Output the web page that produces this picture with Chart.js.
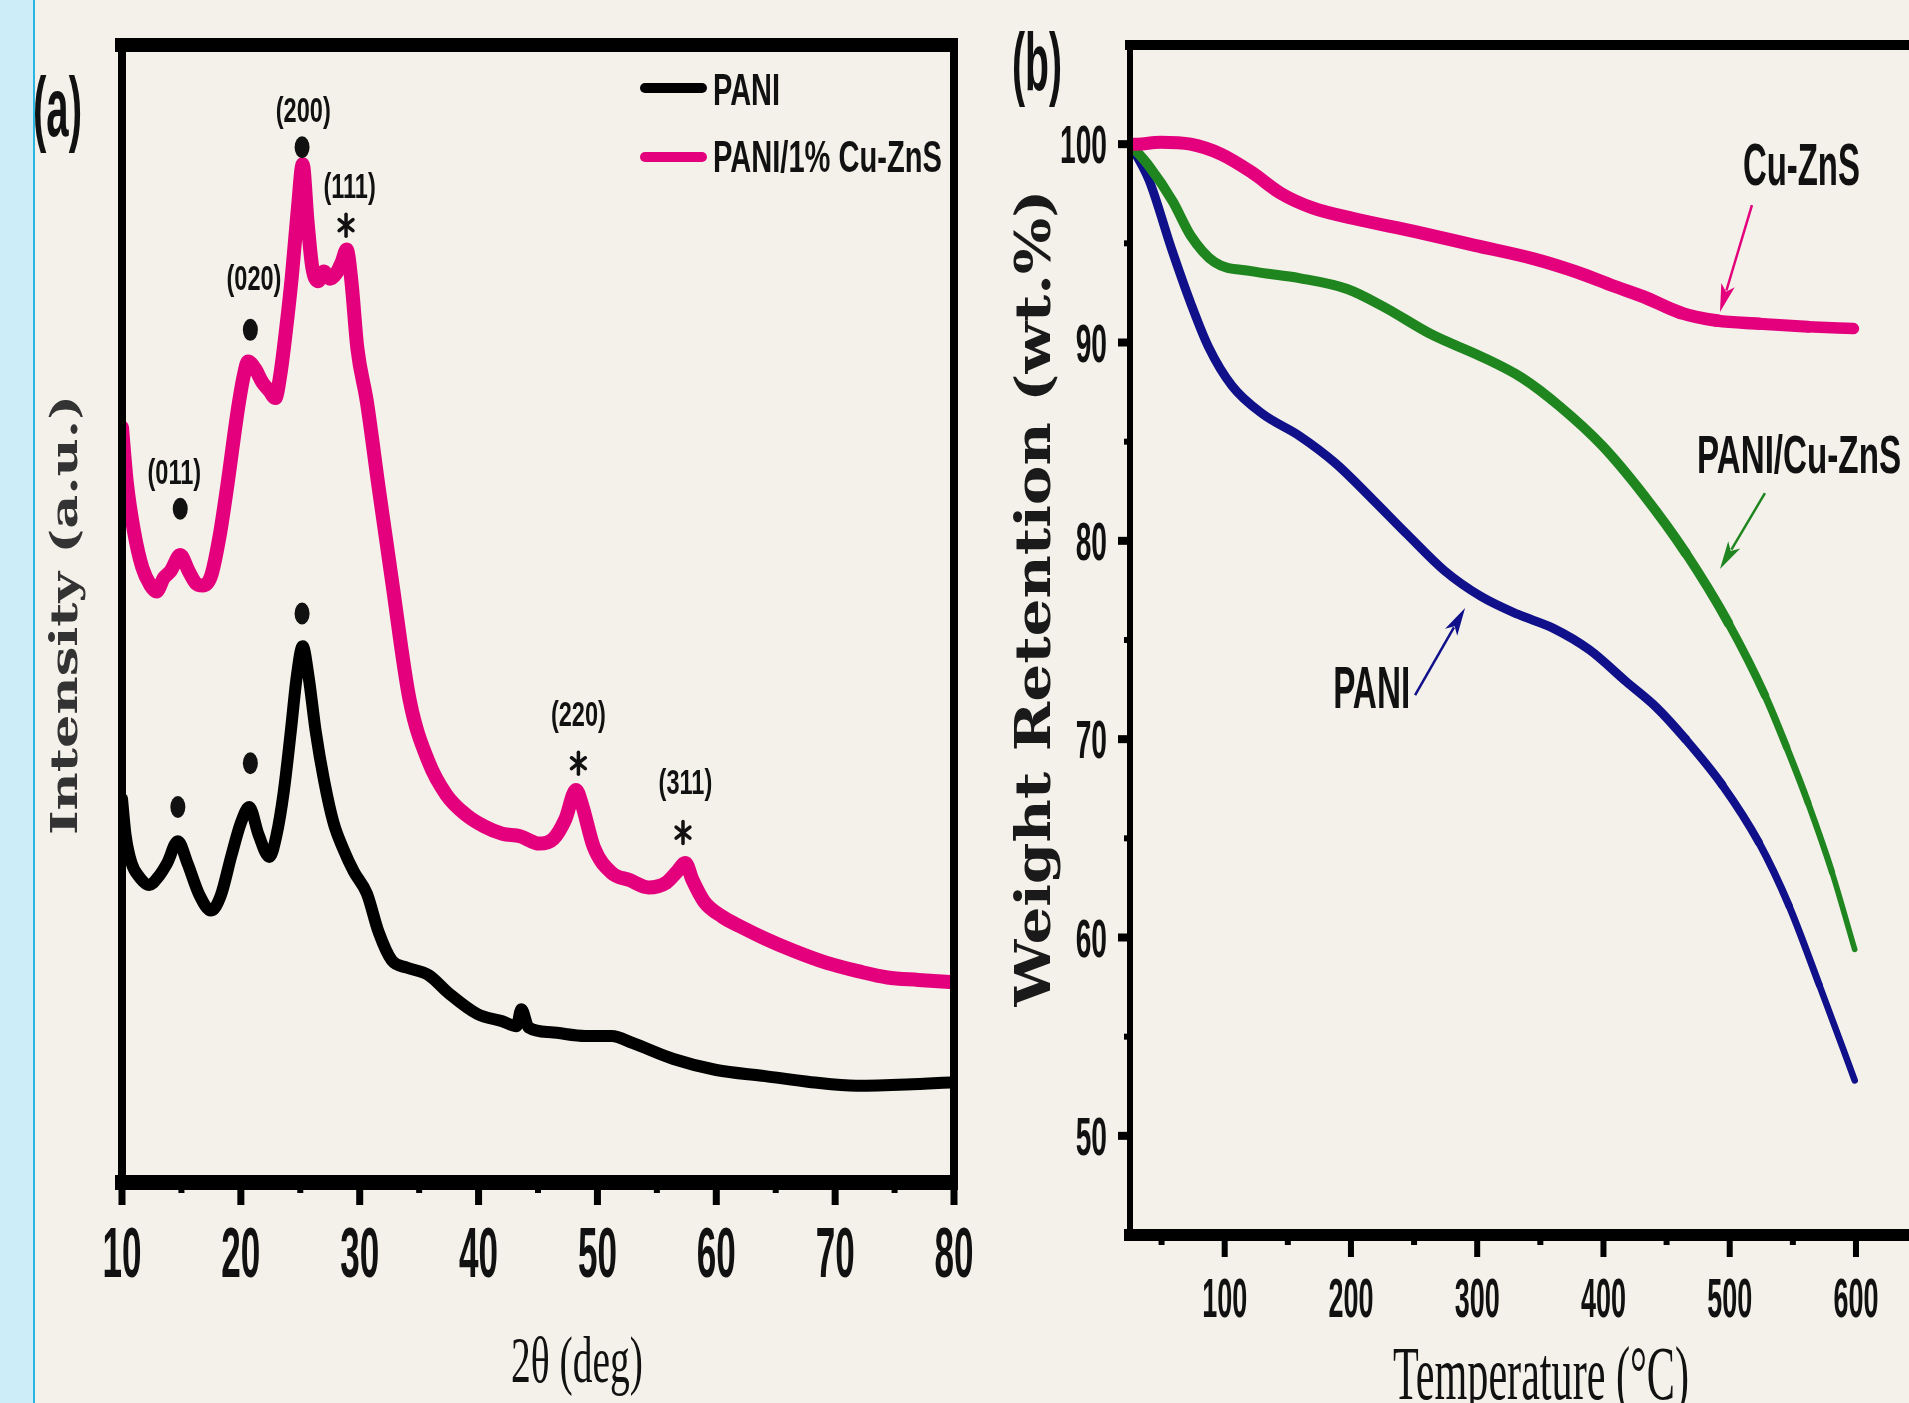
<!DOCTYPE html>
<html>
<head>
<meta charset="utf-8">
<script src="https://cdn.jsdelivr.net/npm/chart.js@4.4.0/dist/chart.umd.min.js"></script>
<style>
  html, body { margin:0; padding:0; width:1909px; height:1403px; overflow:hidden; background:#f3f1e9; }
  #strip { position:absolute; left:0; top:0; width:33px; height:1403px; background:#cdeef8; border-right:2px solid #29b6e2; }
  #xrd { position:absolute; left:0; top:0; }
  #tga { position:absolute; left:960px; top:0; }
</style>
</head>
<body>
<div id="strip"></div>
<canvas id="xrd" width="1000" height="1403"></canvas>
<canvas id="tga" width="949" height="1403"></canvas>
<script>
// ---- (a) XRD data, 2theta (deg) vs intensity (a.u.)
const paniAngle = [10.0,10.3,10.8,11.5,12.3,13.0,13.8,14.7,15.5,16.5,17.5,18.3,19.2,20.0,20.7,21.5,22.4,23.0,23.6,24.2,24.7,25.2,25.7,26.3,27.0,27.8,28.6,29.5,30.6,31.6,32.7,34.0,35.8,37.5,39.9,42.0,43.2,43.6,44.2,46.1,49.0,51.2,53.0,56.4,60.0,64.1,68.0,71.8,76.0,80.0];
const paniInt = [315,285,262,250,244,250,262,280,262,236,223,235,268,295,308,285,267,285,320,370,415,440,415,370,330,295,274,255,237,205,182,176,170,155,138,132,128,142,127,123,120,120,114,101,92,87,82,79,80,82];

const cuAngle = [10.0,10.4,11.0,11.7,12.4,12.9,13.5,14.1,14.9,15.6,16.2,16.8,17.5,18.2,18.8,19.8,20.3,20.6,21.2,21.8,22.4,22.9,23.3,23.8,24.3,24.8,25.2,25.6,26.0,26.5,27.0,27.5,28.0,28.5,28.9,29.3,29.8,30.6,31.6,32.7,34.2,35.8,37.3,38.9,40.5,42.0,43.5,45.1,46.3,47.3,48.2,48.7,49.7,51.2,52.7,54.3,55.8,56.7,57.4,58.0,59.0,60.5,62.0,64.1,66.5,69.3,72.0,74.4,77.0,80.0];
const cuInt = [620,575,535,505,490,485,496,502,515,502,492,490,498,530,568,638,665,674,668,657,650,644,662,700,745,800,836,790,752,740,748,742,746,756,766,740,685,641,570,495,396,345,318,302,292,286,284,278,282,298,322,310,275,254,248,242,246,255,262,248,230,218,210,200,190,180,173,168,166,164];

const xMajorA = [10,20,30,40,50,60,70,80];
const xMinorA = [15,25,35,45,55,65,75];

// peak markers (a)
const hklText  = ['(011)','(020)','(200)','(111)','(220)','(311)'];
const hklAngle = [14.4, 21.1, 25.25, 29.15, 48.4, 57.4];
const hklInt   = [581, 740, 878, 816, 382, 326];
const dotAngle = [14.9, 20.8, 25.15, 14.7, 20.8, 25.15];
const dotInt   = [553, 700, 850, 308, 344, 467];
const starAngle = [28.85, 48.4, 57.2];
const starInt   = [786, 344, 287];

// ---- (b) TGA data, temperature (C) vs weight retention (wt.%)
const cuznsT = [25,30,49,73,97,121,145,169,202,250,298,346,379,408,432,461,490,523,562,598];
const cuznsW = [100.0,100.0,100.1,100.0,99.5,98.6,97.5,96.8,96.25,95.6,94.9,94.2,93.55,92.85,92.3,91.5,91.1,90.95,90.8,90.7];
const compT = [25,40,59,73,92,121,159,197,226,264,303,336,365,399,432,465,499,528,545,562,581,599];
const compW = [100,98.9,97.1,95.4,94.05,93.6,93.25,92.7,91.8,90.4,89.3,88.2,86.8,84.8,82.3,79.4,75.85,72.2,69.6,66.8,63.3,59.4];
const paniT = [25,40,58,73,87,106,130,159,188,217,245,274,303,332,360,389,418,442,465,494,523,547,571,599];
const paniW = [100,98.2,94.7,92.0,89.8,87.8,86.4,85.3,83.9,82.1,80.3,78.5,77.2,76.3,75.6,74.5,72.9,71.6,70.0,67.7,64.8,61.6,57.6,52.8];

const xMajorB = [100,200,300,400,500,600];
const xMinorB = [50,150,250,350,450,550];
const yMajorB = [50,60,70,80,90,100];
const yMinorB = [55,65,75,85,95];

const PINK = '#e4007c', GREEN = '#1f861f', BLUE = '#10108a';

function pts(xs, ys){ return xs.map((v,i) => ({x:v, y:ys[i]})); }

// condensed text: sx squeezes along the writing direction
function squish(ctx, txt, x, y, font, sx, align, rot){
  ctx.save();
  ctx.font = font;
  ctx.translate(x, y);
  if(rot) ctx.rotate(rot);
  ctx.scale(sx, 1);
  ctx.textAlign = align || 'center';
  ctx.textBaseline = 'alphabetic';
  ctx.fillText(txt, 0, 0);
  ctx.restore();
}
function widthScale(ctx, txt, font, w){
  ctx.save(); ctx.font = font;
  const m = ctx.measureText(txt).width;
  ctx.restore();
  return w / m;
}
function fitText(ctx, txt, x, y, font, w, align, rot){
  squish(ctx, txt, x, y, font, widthScale(ctx, txt, font, w), align, rot);
}
function arrow(ctx, x1, y1, x2, y2, color){
  const ang = Math.atan2(y2 - y1, x2 - x1);
  const L = 28, H = 7;
  ctx.save();
  ctx.strokeStyle = color; ctx.fillStyle = color; ctx.lineWidth = 2.5;
  ctx.beginPath(); ctx.moveTo(x1, y1);
  ctx.lineTo(x2 - Math.cos(ang) * L * 0.8, y2 - Math.sin(ang) * L * 0.8); ctx.stroke();
  ctx.translate(x2, y2); ctx.rotate(ang);
  ctx.beginPath(); ctx.moveTo(0, 0); ctx.lineTo(-L, -H); ctx.lineTo(-L * 0.75, 0); ctx.lineTo(-L, H); ctx.closePath(); ctx.fill();
  ctx.restore();
}
function star(ctx, cx, cy){
  ctx.save();
  ctx.strokeStyle = '#111'; ctx.lineWidth = 3.5; ctx.lineCap = 'round';
  for(const a of [90, 30, 150]){
    const r = a * Math.PI / 180;
    ctx.beginPath();
    ctx.moveTo(cx - Math.cos(r) * 8, cy - Math.sin(r) * 11);
    ctx.lineTo(cx + Math.cos(r) * 8, cy + Math.sin(r) * 11);
    ctx.stroke();
  }
  ctx.restore();
}

function frameScale(pos, min, max, width, cap){
  return {
    type:'linear', position:pos, min:min, max:max,
    grid:{ display:false, drawTicks:false, lineWidth:cap },
    ticks:{ display:false },
    border:{ display:true, width:width, color:'#000', z:1 }
  };
}

// ---- (a) decorations
const xrdDecor = {
  id:'xrdDecor',
  afterDraw(chart){
    const {ctx, chartArea:a, scales:{x, y}} = chart;
    ctx.save();
    ctx.fillStyle = '#000';
    xMajorA.forEach(v => { const p = x.getPixelForValue(v); ctx.fillRect(p - 3.5, a.bottom, 7, 23); });
    xMinorA.forEach(v => { const p = x.getPixelForValue(v); ctx.fillRect(p - 3, a.bottom, 6, 11); });

    ctx.fillStyle = '#111';
    const tf = 'bold 70px "Liberation Sans", Arial, sans-serif';
    const ts = widthScale(ctx, '10', tf, 39);
    xMajorA.forEach(v => squish(ctx, String(v), x.getPixelForValue(v), 1277, tf, ts));

    // axis titles
    fitText(ctx, '2\u03b8 (deg)', 577, 1382, '66px "Liberation Serif", "Times New Roman", serif', 132);
    ctx.fillStyle = '#333';
    fitText(ctx, 'Intensity (a.u.)', 77, 615, 'bold 38px "DejaVu Serif", serif', 440, 'center', -Math.PI / 2);

    // panel label
    ctx.fillStyle = '#111';
    fitText(ctx, '(a)', 57.5, 136, 'bold 83px "Liberation Sans", Arial, sans-serif', 49);

    // legend
    ctx.lineCap = 'round';
    ctx.lineWidth = 10;
    ctx.strokeStyle = '#000';
    ctx.beginPath(); ctx.moveTo(645, 88); ctx.lineTo(702, 88); ctx.stroke();
    ctx.strokeStyle = PINK;
    ctx.beginPath(); ctx.moveTo(645, 157); ctx.lineTo(702, 157); ctx.stroke();
    const lf = 'bold 44px "Liberation Sans", Arial, sans-serif';
    fitText(ctx, 'PANI', 713, 105, lf, 67, 'left');
    fitText(ctx, 'PANI/1% Cu-ZnS', 713, 172, lf, 229, 'left');

    // peak markers
    const hf = 'bold 35px "Liberation Sans", Arial, sans-serif';
    const hs = widthScale(ctx, '(200)', hf, 55);
    hklText.forEach((t, i) => squish(ctx, t, x.getPixelForValue(hklAngle[i]), y.getPixelForValue(hklInt[i]) + 9, hf, hs));
    dotAngle.forEach((d, i) => {
      ctx.beginPath();
      ctx.ellipse(x.getPixelForValue(d), y.getPixelForValue(dotInt[i]), 7.5, 11, 0, 0, Math.PI * 2);
      ctx.fill();
    });
    starAngle.forEach((d, i) => star(ctx, x.getPixelForValue(d), y.getPixelForValue(starInt[i])));
    ctx.restore();
  }
};

new Chart(document.getElementById('xrd'), {
  type:'line',
  data:{
    datasets:[
      { label:'PANI', data:pts(paniAngle, paniInt), borderColor:'#000', borderWidth:12 },
      { label:'PANI/1% Cu-ZnS', data:pts(cuAngle, cuInt), borderColor:PINK, borderWidth:14 }
    ]
  },
  options:{
    responsive:false, animation:false, devicePixelRatio:1,
    layout:{ padding:{ left:122, right:46, top:45, bottom:221 } },
    plugins:{ legend:{ display:false }, tooltip:{ enabled:false } },
    elements:{
      point:{ radius:0 },
      line:{ cubicInterpolationMode:'monotone', borderJoinStyle:'round', borderCapStyle:'round' }
    },
    scales:{
      x: frameScale('bottom', 10, 80, 15, 8),
      y: frameScale('left', 0, 934, 8, 15),
      x2: frameScale('top', 10, 80, 14, 8),
      y2: frameScale('right', 0, 934, 8, 15)
    }
  },
  plugins:[xrdDecor]
});

// ---- (b) decorations
const tgaDecor = {
  id:'tgaDecor',
  afterDraw(chart){
    const {ctx, chartArea:a, scales:{x, y}} = chart;
    ctx.save();
    ctx.fillStyle = '#000';
    xMajorB.forEach(v => { const p = x.getPixelForValue(v); ctx.fillRect(p - 3, a.bottom, 6, 22); });
    xMinorB.forEach(v => { const p = x.getPixelForValue(v); ctx.fillRect(p - 3, a.bottom, 6, 10); });
    yMajorB.forEach(v => { const p = y.getPixelForValue(v); ctx.fillRect(a.left - 12, p - 4, 12, 8); });
    yMinorB.forEach(v => { const p = y.getPixelForValue(v); ctx.fillRect(a.left - 6, p - 3, 6, 6); });

    ctx.fillStyle = '#111';
    const xf = 'bold 56px "Liberation Sans", Arial, sans-serif';
    const xs = widthScale(ctx, '100', xf, 45);
    xMajorB.forEach(v => squish(ctx, String(v), x.getPixelForValue(v), 1317, xf, xs));
    const yf = 'bold 54px "Liberation Sans", Arial, sans-serif';
    const ys = widthScale(ctx, '100', yf, 47);
    yMajorB.forEach(v => squish(ctx, String(v), 147, y.getPixelForValue(v) + 19, yf, ys, 'right'));

    fitText(ctx, 'Temperature (\u00b0C)', 581, 1399, '77px "Liberation Serif", "Times New Roman", serif', 296);
    ctx.fillStyle = '#1a1a1a';
    fitText(ctx, 'Weight Retention (wt.%)', 90, 598, 'bold 48px "DejaVu Serif", serif', 817, 'center', -Math.PI / 2);

    ctx.fillStyle = '#111';
    fitText(ctx, '(b)', 77, 90, 'bold 82px "Liberation Sans", Arial, sans-serif', 50);

    // curve labels and arrows
    const af = 'bold 60px "Liberation Sans", Arial, sans-serif';
    fitText(ctx, 'Cu-ZnS', x.getPixelForValue(556.8), y.getPixelForValue(97.94), af, 117);
    fitText(ctx, 'PANI/Cu-ZnS', x.getPixelForValue(554.9), y.getPixelForValue(83.42), 'bold 54px "Liberation Sans", Arial, sans-serif', 204);
    fitText(ctx, 'PANI', x.getPixelForValue(216.4), y.getPixelForValue(71.57), af, 77);
    arrow(ctx, x.getPixelForValue(517.6), y.getPixelForValue(96.93), x.getPixelForValue(492.3), y.getPixelForValue(91.54), PINK);
    arrow(ctx, x.getPixelForValue(527.9), y.getPixelForValue(82.41), x.getPixelForValue(492.3), y.getPixelForValue(78.58), GREEN);
    arrow(ctx, x.getPixelForValue(250.8), y.getPixelForValue(72.22), x.getPixelForValue(290.4), y.getPixelForValue(76.61), BLUE);
    ctx.restore();
  }
};

// lines get a little thinner toward the end, as in the figure
const taper = (w0, w1) => ctx => {
  const t = ctx.p0.parsed.x;
  return t < 450 ? w0 : w0 + (w1 - w0) * (t - 450) / 150;
};

new Chart(document.getElementById('tga'), {
  type:'line',
  data:{
    datasets:[
      { label:'Cu-ZnS', data:pts(cuznsT, cuznsW), borderColor:PINK, borderWidth:13, segment:{ borderWidth:taper(13, 11) } },
      { label:'PANI/Cu-ZnS', data:pts(compT, compW), borderColor:GREEN, borderWidth:10, segment:{ borderWidth:taper(10, 5) } },
      { label:'PANI', data:pts(paniT, paniW), borderColor:BLUE, borderWidth:9, segment:{ borderWidth:taper(9, 6) } }
    ]
  },
  options:{
    responsive:false, animation:false, devicePixelRatio:1,
    layout:{ padding:{ left:170, right:0, top:45, bottom:168 } },
    plugins:{ legend:{ display:false }, tooltip:{ enabled:false } },
    elements:{
      point:{ radius:0 },
      line:{ cubicInterpolationMode:'monotone', borderJoinStyle:'round', borderCapStyle:'round' }
    },
    scales:{
      x: frameScale('bottom', 25, 642, 12, 6),
      y: frameScale('left', 45, 105, 6, 12),
      x2: frameScale('top', 25, 642, 10, 6)
    }
  },
  plugins:[tgaDecor]
});
</script>
</body>
</html>
